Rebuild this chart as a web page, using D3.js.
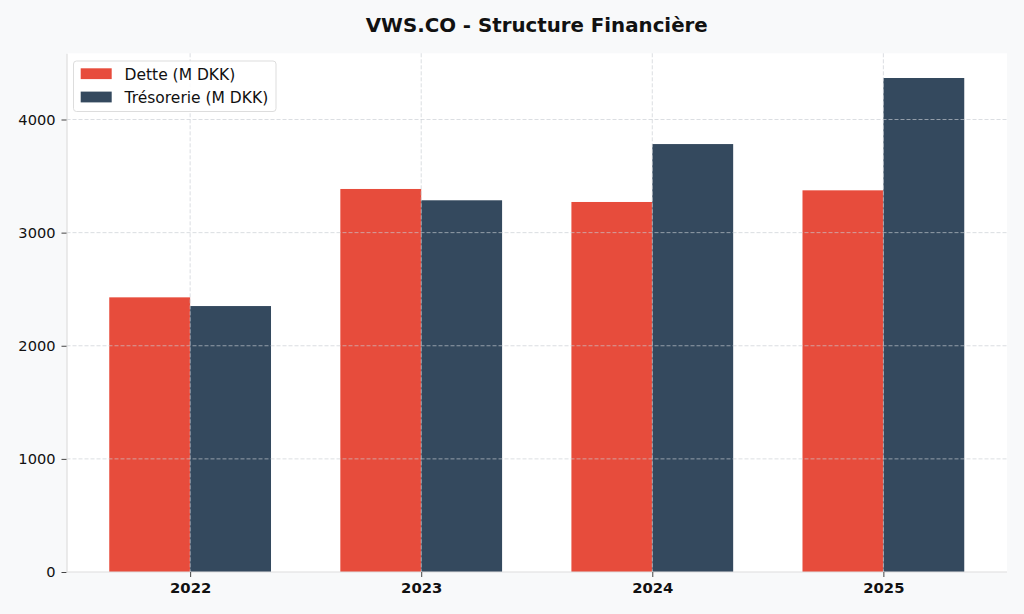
<!DOCTYPE html>
<html>
<head>
<meta charset="utf-8">
<script src="https://cdn.jsdelivr.net/npm/d3@7"></script>
<style>
  html, body { margin: 0; padding: 0; background: #f8f9fa; }
  svg { display: block; font-family: "DejaVu Sans", sans-serif; }
</style>
</head>
<body>
<svg id="chart" width="1024" height="614"></svg>
<script>
const years = ["2022", "2023", "2024", "2025"];
const dette = [2428, 3386, 3271, 3374];
const tresorerie = [2351, 3286, 3783, 4367];
const seriesNames = ["Dette (M DKK)", "Trésorerie (M DKK)"];
const seriesColors = ["#e74c3c", "#34495e"];
const yTicks = [0, 1000, 2000, 3000, 4000];
const title = "VWS.CO - Structure Financière";

const W = 1024, H = 614;
const m = { left: 66.5, right: 1007, top: 53.3, bottom: 572 };
const svg = d3.select("#chart");

svg.append("rect").attr("width", W).attr("height", H).attr("fill", "#f8f9fa");
svg.append("rect").attr("x", m.left).attr("y", m.top)
  .attr("width", m.right - m.left).attr("height", m.bottom - m.top).attr("fill", "#ffffff");

const x = d3.scaleLinear().domain([-0.535, years.length - 1 + 0.535]).range([m.left, m.right]);
const barW = 0.35;
const ymax = d3.max(tresorerie.concat(dette)) * 1.05;
const y = d3.scaleLinear().domain([0, ymax]).range([m.bottom, m.top]);

const series = [dette, tresorerie];
series.forEach((vals, si) => {
  svg.append("g").selectAll("rect").data(vals).join("rect")
    .attr("x", (d, i) => x(i + (si === 0 ? -barW : 0)))
    .attr("width", x(barW) - x(0))
    .attr("y", d => y(d))
    .attr("height", d => y(0) - y(d))
    .attr("fill", seriesColors[si]);
});

// grid on top
const grid = svg.append("g").attr("stroke", "#c8ccd2").attr("stroke-opacity", 0.65)
  .attr("stroke-width", 1).attr("stroke-dasharray", "4,2");
grid.selectAll("line.h").data(yTicks.filter(t => t > 0)).join("line").attr("class", "h")
  .attr("x1", m.left).attr("x2", m.right)
  .attr("y1", d => y(d)).attr("y2", d => y(d));
grid.selectAll("line.v").data(years).join("line").attr("class", "v")
  .attr("x1", (d, i) => x(i)).attr("x2", (d, i) => x(i))
  .attr("y1", m.top).attr("y2", m.bottom);

// y axis
const yAxis = d3.axisLeft(y).tickValues(yTicks).tickSize(5).tickSizeOuter(0).tickPadding(6)
  .tickFormat(d3.format("d"));
const gy = svg.append("g").attr("transform", `translate(${m.left},0)`).call(yAxis);
gy.select(".domain").attr("stroke", "#dddddd").attr("stroke-width", 1.2);
gy.selectAll(".tick line").attr("stroke", "#444");
gy.selectAll(".tick text").attr("font-size", "14.6px").attr("fill", "#111")
  .attr("font-family", "DejaVu Sans");

// x axis
const xAxis = d3.axisBottom(x).tickValues(years.map((d, i) => i)).tickSize(5).tickSizeOuter(0)
  .tickPadding(5).tickFormat(i => years[i]);
const gx = svg.append("g").attr("transform", `translate(0,${m.bottom})`).call(xAxis);
gx.select(".domain").attr("stroke", "#dddddd").attr("stroke-width", 1.2)
  .attr("d", `M${m.left},0H${m.right}`);
gx.selectAll(".tick line").attr("stroke", "#444");
gx.selectAll(".tick text").attr("font-size", "14.8px").attr("font-weight", "bold")
  .attr("fill", "#111").attr("font-family", "DejaVu Sans");

// title
svg.append("text").attr("x", (m.left + m.right) / 2).attr("y", 31.7)
  .attr("text-anchor", "middle").attr("font-size", "19.8px").attr("font-weight", "bold")
  .attr("fill", "#111").text(title);

// legend
const lg = svg.append("g");
lg.append("rect").attr("x", 73.5).attr("y", 61).attr("width", 202.5).attr("height", 50.5)
  .attr("rx", 3).attr("fill", "#ffffff").attr("fill-opacity", 0.85)
  .attr("stroke", "#dddddd").attr("stroke-width", 1);
seriesNames.forEach((name, i) => {
  const yy = 68.3 + i * 23.3;
  lg.append("rect").attr("x", 80.7).attr("y", yy).attr("width", 31).attr("height", 10.8)
    .attr("fill", seriesColors[i]);
  lg.append("text").attr("x", 124.5).attr("y", yy + 11.2).attr("font-size", "15.5px")
    .attr("fill", "#111").text(name);
});
</script>
</body>
</html>
